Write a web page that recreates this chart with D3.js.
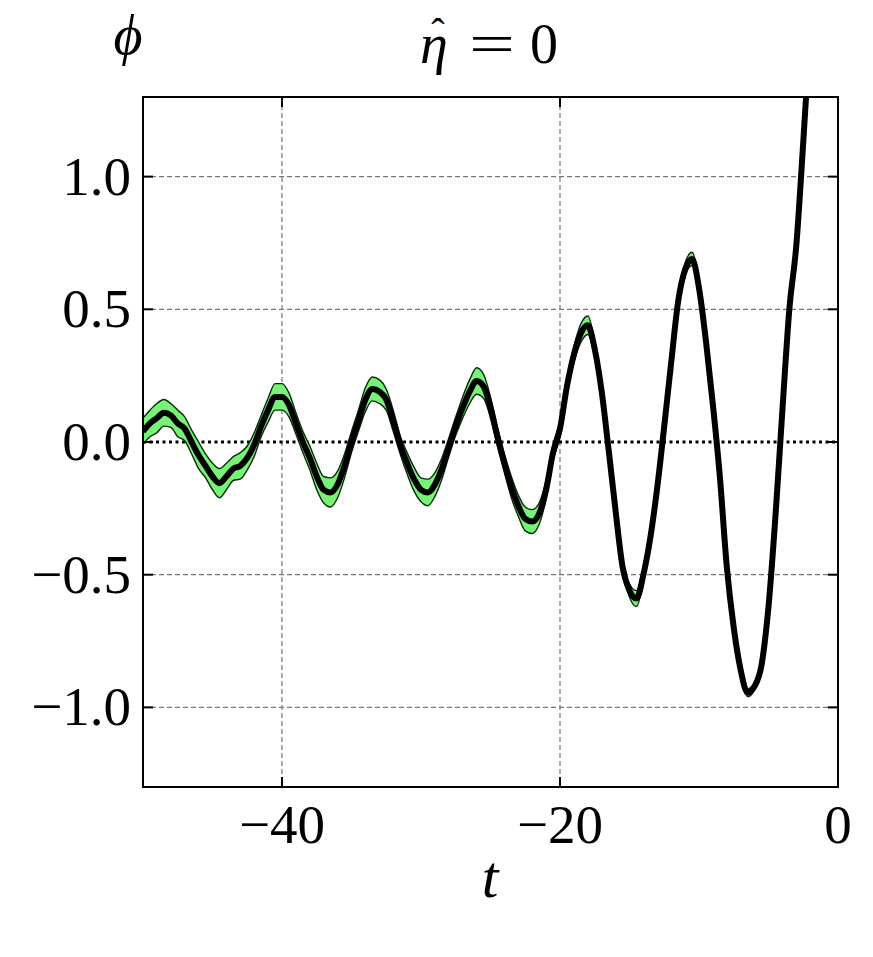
<!DOCTYPE html>
<html>
<head>
<meta charset="utf-8">
<script src="https://cdn.jsdelivr.net/npm/d3@7"></script>
<style>
  body { margin: 0; background: #fff; }
  text { font-family: "Liberation Serif", "DejaVu Serif", serif; fill: #000; }
</style>
</head>
<body>
<svg width="873" height="957"></svg>
<script>
// time samples
var tVals = [
  -50, -49.5, -49, -48.5, -48, -47.5, -47, -46.5, -46, -45.5,
  -45, -44.5, -44, -43.5, -43, -42.5, -42, -41.5, -41, -40.5,
  -40, -39.5, -39, -38.5, -38, -37.5, -37, -36.5, -36, -35.5,
  -35, -34.5, -34, -33.5, -33, -32.5, -32, -31.5, -31, -30.5,
  -30, -29.5, -29, -28.5, -28, -27.5, -27, -26.5, -26, -25.5,
  -25, -24.5, -24, -23.5, -23, -22.5, -22, -21.5, -21, -20.5,
  -20, -19.5, -19, -18.5, -18, -17.5, -17, -16.5, -16, -15.5,
  -15, -14.5, -14, -13.5, -13, -12.5, -12, -11.5, -11, -10.5,
  -10, -9.5, -9, -8.5, -8, -7.5, -7, -6.5, -6, -5.5,
  -5, -4.5, -4, -3.5, -3, -2.5, -2
];

// mean phi
var phiMean = [
  0.04, 0.07, 0.09, 0.11, 0.10, 0.07, 0.05, 0.00, -0.05, -0.09,
  -0.13, -0.155, -0.13, -0.10, -0.09, -0.06, -0.01, 0.06, 0.12, 0.17,
  0.17, 0.14, 0.07, 0.00, -0.06, -0.13, -0.18, -0.19, -0.16, -0.09,
  0.00, 0.08, 0.16, 0.20, 0.19, 0.16, 0.08, -0.01, -0.08, -0.14,
  -0.18, -0.19, -0.16, -0.10, -0.02, 0.06, 0.13, 0.19, 0.23, 0.21,
  0.13, 0.02, -0.08, -0.17, -0.24, -0.29, -0.30, -0.27, -0.18, -0.04,
  0.05, 0.21, 0.33, 0.41, 0.44, 0.35, 0.19, -0.03, -0.26, -0.47,
  -0.56, -0.59, -0.50, -0.36, -0.17, 0.06, 0.30, 0.53, 0.65, 0.69,
  0.58, 0.38, 0.14, -0.13, -0.47, -0.70, -0.86, -0.945, -0.92, -0.84,
  -0.62, -0.28, 0.12, 0.50, 0.74, 1.13, 1.55
];

// half width of the spread band
var phiSpread = [
  0.05, 0.05, 0.055, 0.05, 0.045, 0.05, 0.045, 0.045, 0.05, 0.045,
  0.05, 0.055, 0.05, 0.045, 0.05, 0.045, 0.045, 0.04, 0.045, 0.05,
  0.05, 0.045, 0.04, 0.04, 0.045, 0.05, 0.05, 0.055, 0.05, 0.045,
  0.04, 0.04, 0.045, 0.045, 0.045, 0.04, 0.04, 0.035, 0.04, 0.045,
  0.045, 0.05, 0.045, 0.04, 0.035, 0.035, 0.04, 0.045, 0.05, 0.045,
  0.04, 0.035, 0.035, 0.04, 0.04, 0.045, 0.045, 0.04, 0.035, 0.03,
  0.03, 0.03, 0.03, 0.035, 0.035, 0.03, 0.025, 0.02, 0.02, 0.02,
  0.025, 0.03, 0.025, 0.02, 0.02, 0.02, 0.02, 0.02, 0.025, 0.025,
  0.02, 0.015, 0.01, 0.01, 0.01, 0.01, 0.01, 0.015, 0.012, 0.008,
  0.005, 0.004, 0.004, 0.004, 0.003, 0.003, 0.003
];

var xTicks = [-40, -20, 0];
var yTicks = [-1.0, -0.5, 0.0, 0.5, 1.0];

var svg = d3.select("svg");
var mLeft = 143, mRight = 838, mTop = 97, mBottom = 787;

var x = d3.scaleLinear().domain([-50, 0]).range([mLeft, mRight]);
var y = d3.scaleLinear().domain([-1.3, 1.3]).range([mBottom, mTop]);

var data = tVals.map(function(t, i) {
  return { t: t, m: phiMean[i], s: phiSpread[i] };
});

svg.append("defs").append("clipPath").attr("id", "clip")
  .append("rect")
  .attr("x", mLeft).attr("y", mTop)
  .attr("width", mRight - mLeft).attr("height", mBottom - mTop);

// grid
var grid = svg.append("g");
grid.selectAll("line.gx").data(xTicks.filter(function(d) { return d !== 0; }))
  .enter().append("line")
  .attr("x1", function(d) { return x(d); }).attr("x2", function(d) { return x(d); })
  .attr("y1", mTop).attr("y2", mBottom)
  .attr("stroke", "#777").attr("stroke-width", 1.2).attr("stroke-dasharray", "5,3");
grid.selectAll("line.gy").data(yTicks.filter(function(d) { return d !== 0; }))
  .enter().append("line")
  .attr("y1", function(d) { return y(d); }).attr("y2", function(d) { return y(d); })
  .attr("x1", mLeft).attr("x2", mRight)
  .attr("stroke", "#777").attr("stroke-width", 1.2).attr("stroke-dasharray", "5,3");

// zero line
svg.append("line")
  .attr("x1", mLeft).attr("x2", mRight)
  .attr("y1", y(0)).attr("y2", y(0))
  .attr("stroke", "#000").attr("stroke-width", 3).attr("stroke-dasharray", "3,3.5");

var plot = svg.append("g").attr("clip-path", "url(#clip)");

var curve = d3.curveMonotoneX;

// band
plot.append("path").datum(data)
  .attr("d", d3.area()
    .x(function(d) { return x(d.t); })
    .y0(function(d) { return y(d.m - d.s); })
    .y1(function(d) { return y(d.m + d.s); })
    .curve(curve))
  .attr("fill", "#77f277")
  .attr("stroke", "none");

["upper", "lower"].forEach(function(side) {
  plot.append("path").datum(data)
    .attr("d", d3.line()
      .x(function(d) { return x(d.t); })
      .y(function(d) { return y(side === "upper" ? d.m + d.s : d.m - d.s); })
      .curve(curve))
    .attr("fill", "none")
    .attr("stroke", "#0b2a0b")
    .attr("stroke-width", 1.4);
});

// mean
plot.append("path").datum(data)
  .attr("d", d3.line()
    .x(function(d) { return x(d.t); })
    .y(function(d) { return y(d.m); })
    .curve(curve))
  .attr("fill", "none")
  .attr("stroke", "#000")
  .attr("stroke-width", 6)
  .attr("stroke-linejoin", "round");

// frame
svg.append("rect")
  .attr("x", mLeft).attr("y", mTop)
  .attr("width", mRight - mLeft).attr("height", mBottom - mTop)
  .attr("fill", "none").attr("stroke", "#000").attr("stroke-width", 2);

// inward ticks on all sides
var tickLen = 10;
var ticks = svg.append("g").attr("stroke", "#000").attr("stroke-width", 2);
xTicks.forEach(function(d) {
  ticks.append("line").attr("x1", x(d)).attr("x2", x(d)).attr("y1", mBottom).attr("y2", mBottom - tickLen);
  ticks.append("line").attr("x1", x(d)).attr("x2", x(d)).attr("y1", mTop).attr("y2", mTop + tickLen);
});
yTicks.forEach(function(d) {
  ticks.append("line").attr("x1", mLeft).attr("x2", mLeft + tickLen).attr("y1", y(d)).attr("y2", y(d));
  ticks.append("line").attr("x1", mRight).attr("x2", mRight - tickLen).attr("y1", y(d)).attr("y2", y(d));
});

function fmt(v, digits) {
  var s = v.toFixed(digits);
  if (v < 0) s = "\u2212" + s.slice(1);
  return s;
}

// tick labels
svg.selectAll("text.xl").data(xTicks).enter().append("text")
  .attr("x", function(d) { return x(d); })
  .attr("y", 843)
  .attr("text-anchor", "middle")
  .attr("font-size", 55)
  .text(function(d) { return fmt(d, 0); });

svg.selectAll("text.yl").data(yTicks).enter().append("text")
  .attr("x", 131)
  .attr("y", function(d) { return y(d) + 18; })
  .attr("text-anchor", "end")
  .attr("font-size", 55)
  .text(function(d) { return fmt(d, 1); });

// axis labels and title
svg.append("text")
  .attr("x", 490).attr("y", 897)
  .attr("text-anchor", "middle")
  .attr("font-size", 60)
  .attr("font-style", "italic")
  .text("t");

svg.append("text")
  .attr("x", 128).attr("y", 54)
  .attr("text-anchor", "middle")
  .attr("font-size", 56)
  .attr("font-style", "italic")
  .text("\u03d5");

// title: eta with a hat, then "= 0"
svg.append("text")
  .attr("x", 434).attr("y", 63)
  .attr("text-anchor", "middle")
  .attr("font-size", 56)
  .attr("font-style", "italic")
  .text("\u03b7");
svg.append("text")
  .attr("x", 438).attr("y", 46)
  .attr("text-anchor", "middle")
  .attr("font-size", 40)
  .text("\u02c6");
svg.append("text")
  .attr("x", 469).attr("y", 63)
  .attr("font-size", 56)
  .attr("textLength", 46)
  .attr("lengthAdjust", "spacingAndGlyphs")
  .text("=");
svg.append("text")
  .attr("x", 530).attr("y", 63)
  .attr("font-size", 56)
  .text("0");
</script>
</body>
</html>
